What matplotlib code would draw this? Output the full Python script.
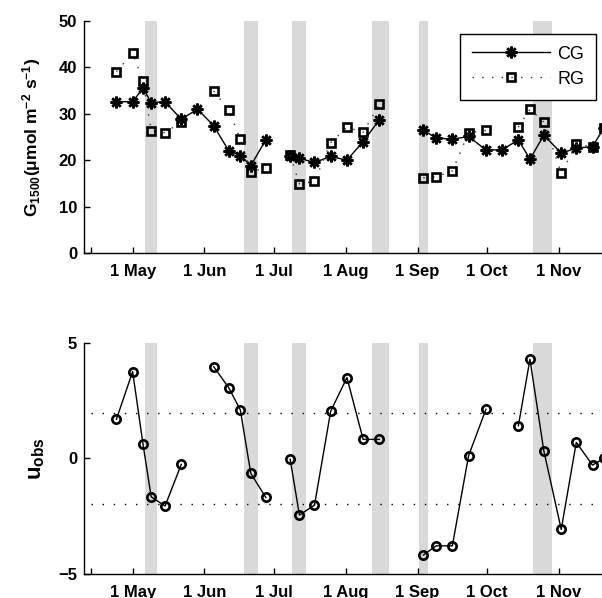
import numpy as np
import matplotlib
matplotlib.use("Agg")
import matplotlib.pyplot as plt

plt.rcParams['font.family'] = ['Liberation Sans', 'DejaVu Sans']
plt.rcParams['mathtext.fontset'] = 'custom'
plt.rcParams['mathtext.rm'] = 'Liberation Sans'
plt.rcParams['mathtext.bf'] = 'Liberation Sans:bold'
plt.rcParams['mathtext.default'] = 'bf'

# day of year of each measurement; NaN rows split the lines into campaigns
doy = np.array([114, 121, 125.5, 129, 135, 142, 149, 156, 162.5, 167.5, 172, 178.5,
                184,
                189, 193, 199.5, 206.5, 213.5, 220.5, 227.5,
                237,
                246.5, 252, 259, 266, 273.5, 280.5, 287.5, 292.5, 298.5, 306,
                312.5, 319.5, 324.5])
nan = np.nan
g_cg = np.array([32.6, 32.6, 35.5, 32.4, 32.6, 28.8, 31.0, 27.4, 22.0, 21.0, 18.8, 24.4,
                 nan,
                 21.0, 20.4, 19.5, 20.8, 20.0, 24.0, 28.7,
                 nan,
                 26.4, 24.8, 24.5, 25.1, 22.2, 22.2, 24.4, 20.2, 25.4, 21.5,
                 22.6, 22.9, 27.0])
g_rg = np.array([39.1, 43.0, 37.1, 26.3, 25.9, 28.3, nan, 34.9, 30.7, 24.5, 17.4, 18.4,
                 nan,
                 21.1, 14.9, 15.4, 23.8, 27.1, 26.0, 32.0,
                 nan,
                 16.2, 16.4, 17.7, 25.9, 26.4, nan, 27.1, 31.0, 28.2, 17.2,
                 23.4, 22.9, 27.0])
u_obs = np.array([1.69, 3.75, 0.60, -1.66, -2.06, -0.26, nan, 3.96, 3.05, 2.09, -0.65, -1.69,
                  nan,
                  -0.04, -2.45, -2.02, 2.04, 3.49, 0.82, 0.82,
                  nan,
                  -4.18, -3.78, -3.78, 0.11, 2.12, nan, 1.41, 4.28, 0.32, -3.07,
                  0.69, -0.29, 0.0])

# shaded periods (start, end) in day of year
periods = [(126.5, 131.5), (169, 175), (190, 196), (224.5, 231.5), (244.5, 248.5), (294, 302)]

tick_doy = [103, 121, 152, 182, 213, 244, 274, 305]
tick_lbl = ['', '1 May', '1 Jun', '1 Jul', '1 Aug', '1 Sep', '1 Oct', '1 Nov']
u_crit = 1.96

xlim = (100, 323.6)
asterisk = (8, 2, 0)


def style_axes(ax):
    for s in ['top', 'right']:
        ax.spines[s].set_visible(False)
    for s in ['left', 'bottom']:
        ax.spines[s].set_linewidth(1.0)
    ax.set_xlim(*xlim)
    ax.set_xticks(tick_doy)
    ax.set_xticklabels(tick_lbl)
    ax.tick_params(axis='both', direction='in', length=4, width=1, labelsize=12)
    ax.tick_params(axis='x', pad=8)
    ax.tick_params(axis='y', pad=5)
    for lab in ax.get_xticklabels() + ax.get_yticklabels():
        lab.set_fontweight('bold')


def shade(ax):
    for a, b in periods:
        ax.axvspan(a, b, color='#d9d9d9', lw=0, zorder=0)


fig = plt.figure(figsize=(6.02, 5.98), dpi=100)
ax1 = fig.add_axes([0.1395, 0.577, 0.8605, 0.388])
ax2 = fig.add_axes([0.1395, 0.040, 0.8605, 0.387])

# conductance at 1500 umol PAR
shade(ax1)
ax1.plot(doy, g_cg, '-', color='black', lw=1.0, marker=asterisk, ms=8.5, mew=1.8,
         mfc='black', mec='black', label='CG', zorder=3)
ax1.plot(doy, g_rg, color='#333333', lw=1.0, ls=(0, (1, 6)), marker='s', ms=6.2, mew=1.9,
         mfc='none', mec='black', label='RG', zorder=3)
ax1.set_ylim(0, 50)
ax1.set_yticks([0, 10, 20, 30, 40, 50])
style_axes(ax1)
ax1.set_ylabel('G$_{1500}$(μmol m$^{-2}$ s$^{-1}$)', fontsize=12.5, fontweight='bold',
               labelpad=11)
leg = ax1.legend(loc='upper right', bbox_to_anchor=(0.988, 0.944), borderaxespad=0,
                 fontsize=13, handlelength=4.3, borderpad=0.65, labelspacing=0.45,
                 handletextpad=0.4, fancybox=False, framealpha=1, edgecolor='black')
leg.get_frame().set_linewidth(1.0)

# trend test statistic
shade(ax2)
ax2.plot([103, 330], [u_crit, u_crit], color='black', lw=1.0, ls=(0, (1, 7)), zorder=1)
ax2.plot([103, 330], [-u_crit, -u_crit], color='black', lw=1.0, ls=(0, (1, 7)), zorder=1)
ax2.plot(doy, u_obs, '-', color='black', lw=1.0, marker='o', ms=6, mew=1.9,
         mfc='none', mec='black', zorder=3)
ax2.set_ylim(-5, 5)
ax2.set_yticks([-5, 0, 5])
style_axes(ax2)
ax2.set_ylabel('u$_{obs}$', fontsize=16, fontweight='bold', labelpad=8)

fig.savefig('out.png', dpi=100)
